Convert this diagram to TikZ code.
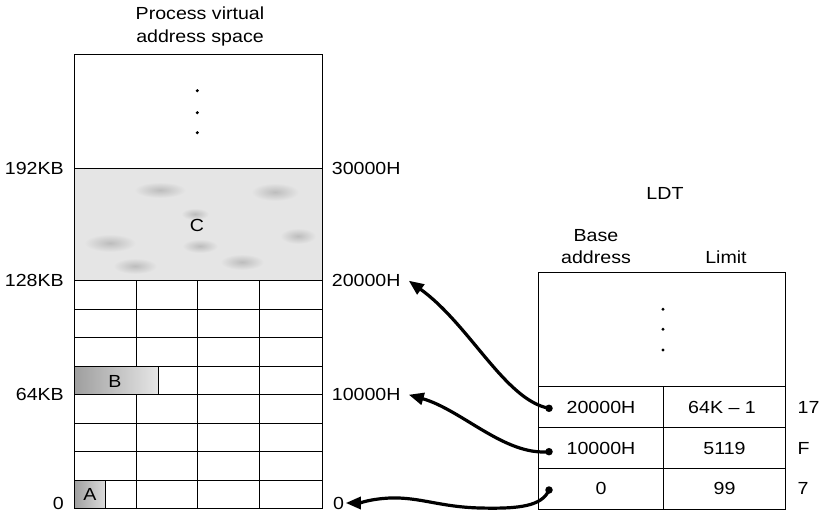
\documentclass[tikz,border=0pt]{standalone}
\usepackage{fontspec}
\setmainfont{Liberation Sans}[FakeStretch=1.12]
\usetikzlibrary{arrows.meta}
\begin{document}
\begin{tikzpicture}[x=1pt,y=-1pt,
  font=\fontsize{17.5}{22}\selectfont,
  ln/.style={line width=0.9pt},
  lleft/.style={anchor=east,inner sep=0pt},
  lright/.style={anchor=west,inner xsep=8pt,inner ysep=0pt},
  ctext/.style={inner sep=0pt},
  btext/.style={anchor=base,inner sep=0pt},
  dotn/.style={circle,fill=black,inner sep=0pt,minimum size=7.5pt},
  vdot/.style={circle,fill=black,inner sep=0pt,minimum size=3.3pt},
  blob/.style={inner color=black!26,outer color=black!10},
  conn/.style={line width=3.2pt,-{Triangle[length=15pt,width=12pt]}},
]
\useasboundingbox (0,0) rectangle (819,513);

% ---- shaded segments
\fill[black!10] (74,168) rectangle (322,280.7);
\shade[blob] (160,190) ellipse (26 and 8);
\shade[blob] (275,192) ellipse (24 and 9);
\shade[blob] (195,214) ellipse (14 and 6);
\shade[blob] (110,243) ellipse (26 and 9);
\shade[blob] (200,246) ellipse (18 and 7);
\shade[blob] (135,266) ellipse (22 and 8);
\shade[blob] (242,262) ellipse (22 and 8);
\shade[blob] (298,236) ellipse (18 and 8);
\shade[left color=black!38,right color=black!10] (74,366.3) rectangle (158.3,394.7);
\shade[left color=black!38,right color=black!14] (74,480.3) rectangle (105,508.7);

% ---- process virtual address space
\draw[ln] (74,54) rectangle (322,508.7);
\draw[ln] (74,168) -- (322,168);
\draw[ln] (74,280.7) -- (322,280.7);
\foreach \y in {309,337.7,366.3,394.7,423.3,451.7,480.3}
  \draw[ln] (74,\y) -- (322,\y);
\draw[ln] (197.3,280.7) -- (197.3,508.7);
\draw[ln] (259.3,280.7) -- (259.3,508.7);
\draw[ln] (136,280.7) -- (136,366.3);
\draw[ln] (136,394.7) -- (136,508.7);
\draw[ln] (158.3,366.3) -- (158.3,394.7);
\draw[ln] (105,480.3) -- (105,508.7);

\node[vdot] (v1) at (197.3,90.7) {};
\node[vdot] (v2) at (197.3,112.7) {};
\node[vdot] (v3) at (197.3,132.7) {};

\node[ctext] (segC) at (197,225) {C};
\node[ctext] (segB) at (115,381) {B};
\node[ctext] (segA) at (90,494) {A};

\node[btext] (title1) at (200,20) {Process virtual};
\node[btext] (title2) at (200,43) {address space};

\node[lleft] (l192) at (64,168) {192KB};
\node[lleft] (l128) at (64,280.7) {128KB};
\node[lleft] (l64) at (64,394.7) {64KB};
\node[lleft] (l0) at (64,503) {0};

\node[lright] (r30) at (323.7,168) {30000H};
\node[lright] (r20) at (323.7,280.7) {20000H};
\node[lright] (r10) at (323.7,394.7) {10000H};
\node[lright,inner xsep=1.5pt] (r0) at (331.5,503) {0};

% ---- LDT
\node[btext] (ldt) at (665,200) {LDT};
\node[btext] (hb1) at (596,241.7) {Base};
\node[btext] (hb2) at (596,263) {address};
\node[btext] (hl) at (726,263) {Limit};

\draw[ln] (538.3,272.7) rectangle (785.7,509.3);
\draw[ln] (538.3,386.7) -- (785.7,386.7);
\draw[ln] (538.3,427.7) -- (785.7,427.7);
\draw[ln] (538.3,468.3) -- (785.7,468.3);
\draw[ln] (663.3,386.7) -- (663.3,509.3);

\node[vdot] (t1) at (663,309.3) {};
\node[vdot] (t2) at (663,329.3) {};
\node[vdot] (t3) at (663,350) {};

\node[ctext] (b17) at (601,407.2) {20000H};
\node[ctext] (lim17) at (722,407.2) {64K – 1};
\node[ctext] (bF) at (601,448) {10000H};
\node[ctext] (limF) at (724.5,448) {5119};
\node[ctext] (b7) at (601,488.8) {0};
\node[ctext] (lim7) at (724.5,488.8) {99};

\node[anchor=west,inner sep=0pt] (s17) at (797.5,407.2) {17};
\node[anchor=west,inner sep=0pt] (sF) at (797.5,448) {F};
\node[anchor=west,inner sep=0pt] (s7) at (797.5,488.8) {7};

\node[dotn] (d17) at (549,408.3) {};
\node[dotn] (dF) at (549,451.7) {};
\node[dotn] (d7) at (549,490) {};

% ---- connectors
\draw[conn] (d17.center) .. controls (505,400) and (470,325) .. (r20.east);
\draw[conn] (dF.center) .. controls (505,456) and (462,410) .. (r10.east);
\draw[conn] (d7.center) .. controls (542,506) and (520,509) .. (480,508)
  .. controls (440,507) and (420,497) .. (390,498)
  .. controls (370,499) and (360,503) .. (r0.east);
\end{tikzpicture}
\end{document}
